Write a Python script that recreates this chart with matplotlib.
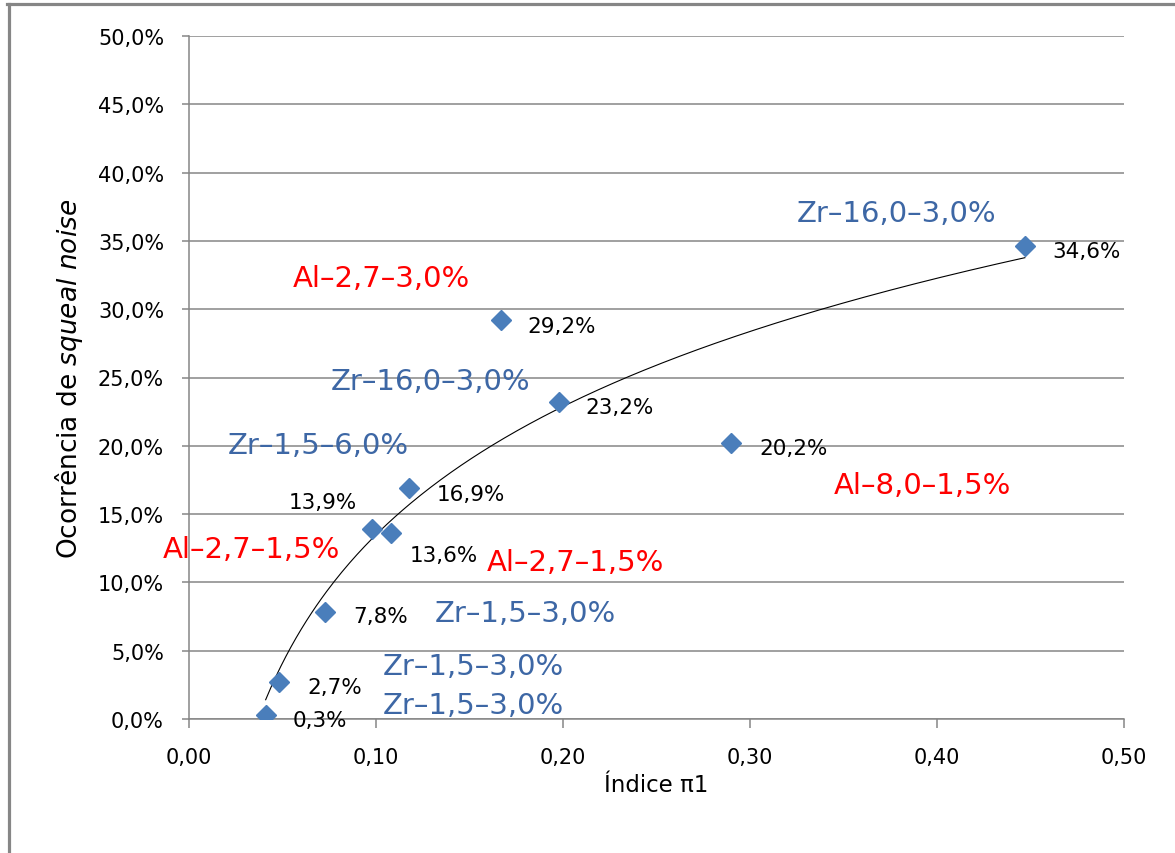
import numpy as np
import matplotlib
matplotlib.use("Agg")
import matplotlib.pyplot as plt
from matplotlib.lines import Line2D
from matplotlib.ticker import FuncFormatter, MultipleLocator

# Index pi1 and squeal-noise occurrence (%) for each pad composition
pi1 = [0.041, 0.048, 0.0727, 0.098, 0.108, 0.1176, 0.1668, 0.198, 0.290, 0.447]
squeal = [0.3, 2.7, 7.8, 13.9, 13.6, 16.9, 29.2, 23.2, 20.2, 34.6]
materials = ["Zr–1,5–3,0%", "Zr–1,5–3,0%", "Zr–1,5–3,0%", "Al–2,7–1,5%",
             "Al–2,7–1,5%", "Zr–1,5–6,0%", "Al–2,7–3,0%", "Zr–16,0–3,0%",
             "Al–8,0–1,5%", "Zr–16,0–3,0%"]

# label placement (pixels from each point: right, up)
value_offsets = [(27, -11), (29, -11), (28, -10), (-84, 21), (19, -28),
                 (28, -12), (26, -12), (26, -11), (28, -11), (27, -11)]
name_offsets = [(117, 2), (104, 8), (110, -9), (-209, -28), (96, -37),
                (-181, 35), (-208, 34), (-229, 13), (102, -50), (-228, 25)]

GRAY = "#868686"
BLUE_MARK = "#4A7EBB"
BLUE_TEXT = "#3D67A5"
RED_TEXT = "#FF0000"

fig = plt.figure(figsize=(11.75, 8.54), dpi=100)
ax = fig.add_axes([189 / 1175, 1 - 720 / 854, (1124 - 189) / 1175, (720 - 37) / 854])

x = np.array(pi1)
y = np.array(squeal)

# logarithmic trend line
a, b = np.polyfit(np.log(x), y, 1)
xt = np.linspace(x.min(), x.max(), 300)
ax.plot(xt, a * np.log(xt) + b, color="black", lw=0.8, zorder=3)

ax.plot(x, y, linestyle="none", marker="D", markersize=10.5,
        color=BLUE_MARK, markeredgecolor=BLUE_MARK, zorder=4)

for xi, yi, val, name, vo, no in zip(x, y, squeal, materials, value_offsets, name_offsets):
    ax.annotate(f"{val:.1f}%".replace(".", ","), xy=(xi, yi),
                xytext=vo, textcoords="offset pixels",
                ha="left", va="baseline", fontsize=15.5, color="black", zorder=5)
    ax.annotate(name, xy=(xi, yi), xytext=no, textcoords="offset pixels",
                ha="left", va="baseline", fontsize=21,
                color=RED_TEXT if name.startswith("Al") else BLUE_TEXT, zorder=5)

ax.set_xlim(0, 0.5)
ax.set_ylim(0, 50)
ax.xaxis.set_major_locator(MultipleLocator(0.1))
ax.yaxis.set_major_locator(MultipleLocator(5))
ax.xaxis.set_major_formatter(FuncFormatter(lambda v, p: f"{v:.2f}".replace(".", ",")))
ax.yaxis.set_major_formatter(FuncFormatter(lambda v, p: f"{v:.1f}%".replace(".", ",")))

ax.grid(axis="y", color=GRAY, lw=1.1)
ax.set_axisbelow(True)
for side in ("top", "right"):
    ax.spines[side].set_visible(False)
for side in ("left", "bottom"):
    ax.spines[side].set_color(GRAY)
    ax.spines[side].set_linewidth(1.1)

ax.tick_params(axis="y", length=5, width=1.1, color=GRAY, pad=13, labelsize=15)
ax.tick_params(axis="x", length=6.5, width=1.1, color=GRAY, pad=14, labelsize=15)

ax.set_xlabel("Índice π1", fontsize=16.5, labelpad=4)
ax.set_ylabel(r"Ocorrência de $\mathit{squeal\ noise}$", fontsize=19, labelpad=9)

# outer frame (top and left edges)
fig.add_artist(Line2D([8.5 / 1175, 8.5 / 1175], [0, 1 - 4.5 / 854],
                      transform=fig.transFigure, color=GRAY, lw=2.3))
fig.add_artist(Line2D([7 / 1175, 1], [1 - 4.5 / 854, 1 - 4.5 / 854],
                      transform=fig.transFigure, color=GRAY, lw=2.3))

fig.savefig("out.png", dpi=100)
